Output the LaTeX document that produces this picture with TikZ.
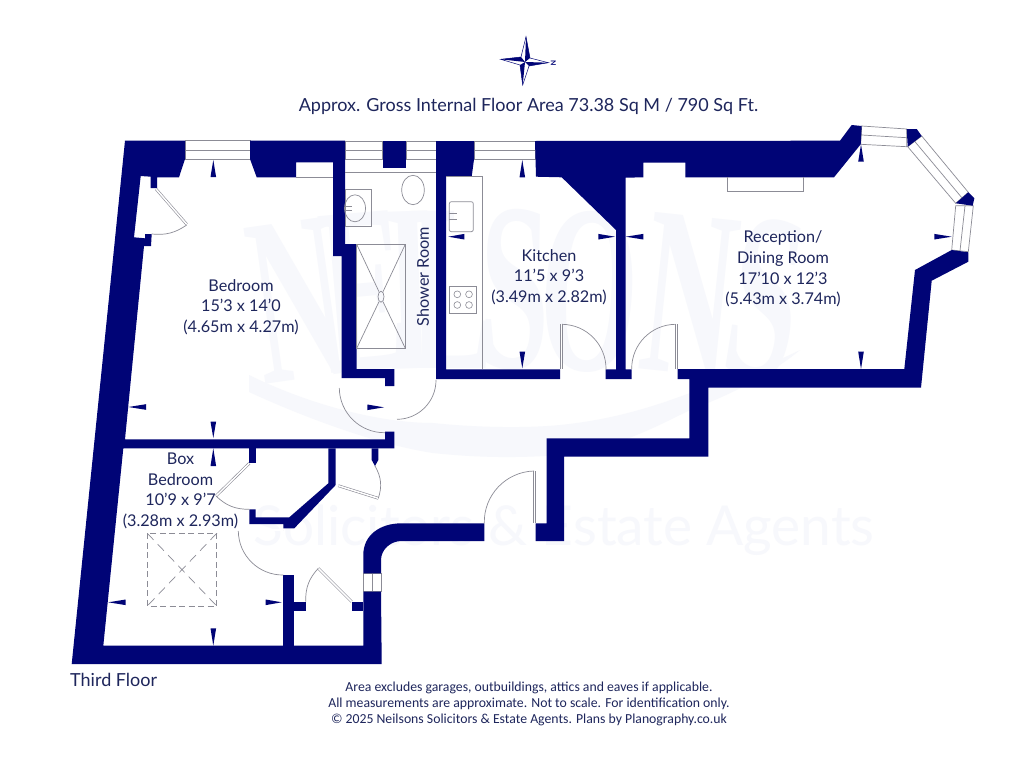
\documentclass[tikz,border=0pt]{standalone}
\usepackage{fontspec}
\setmainfont[Ligatures=Common]{Lato}
\newfontfamily\footfont[Ligatures=Common]{Carlito}
\newfontfamily\wmfont{Liberation Serif}
\usetikzlibrary{calc}
\definecolor{wallblue}{RGB}{0,4,118}
\definecolor{inkblue}{RGB}{30,38,92}
\definecolor{fixgray}{RGB}{140,140,150}
\definecolor{wmark}{RGB}{247,248,252}
\tikzset{
  wall/.style={fill=wallblue,draw=none},
  fix/.style={draw=fixgray,line width=0.7pt},
  swing/.style={draw=fixgray,line width=0.7pt},
  leaf/.style={draw=fixgray,line width=0.6pt,double=white,double distance=1.5pt},
  label/.style={text=inkblue,align=center,font=\fontsize{16.2}{20.6}\selectfont,inner sep=0pt},
  wmtext/.style={text=wmark,inner sep=0pt,font=\wmfont\bfseries\fontsize{120}{120}\selectfont},
  tick/.style={fill=wallblue,draw=none}
}
\newcommand{\vtick}[3]{\fill[tick] (#1,#2) -- (#1+2.8,#3) -- (#1-2.8,#3) -- cycle;}
\newcommand{\htick}[3]{\fill[tick] (#1,#3) -- (#2,#3-2.8) -- (#2,#3+2.8) -- cycle;}
\begin{document}
\begin{tikzpicture}[x=1pt,y=-1pt]
\useasboundingbox (0,0) rectangle (1024,768);
\fill[white] (0,0) rectangle (1024,768);
% watermark
\foreach \t/\x/\y/\r in {N/298/300/8,E/365/292/5,I/410/290/2,L/452/290/0,S/515/290/-1,O/590/292/-3,N/690/295/-6,S/765/300/-9}{
  \node[wmtext,rotate=\r] (wm\x) at (\x,\y) {\scalebox{1.05}[2]{\t}};
}
\fill[wmark] (249,375) .. controls (310,405) and (380,423) .. (433,423) .. controls (480,428) and (530,428) .. (560,425) .. controls (610,420) and (650,408) .. (690,393) .. controls (730,380) and (770,365) .. (800,350) .. controls (770,375) and (730,395) .. (690,410) .. controls (650,430) and (610,450) .. (560,455) .. controls (520,458) and (480,458) .. (433,453) .. controls (380,445) and (310,420) .. (249,392) -- cycle;
\node[text=wmark,inner sep=0pt,font=\fontsize{55}{55}\selectfont] (wmsub) at (564,530) {Solicitors \& Estate Agents};

% windows
\draw[fix] (185,140.7) rectangle (250,159) (185,150) -- (250,150);
\draw[fix] (345,141) rectangle (382.7,159.3) (345,150) -- (382.7,150);
\draw[fix] (406,141) rectangle (436,159.3) (406,150) -- (436,150);
\draw[fix] (474,141) rectangle (535,159.3) (474,150) -- (535,150);
\draw[fix] (861.7,126) -- (906.7,129) -- (906.7,146.7) -- (860.7,144.3) -- cycle (861.7,135) -- (906.7,137.7);
\draw[fix] (921.7,136) -- (968.3,192.3) -- (955.7,203.3) -- (907.7,146.7) -- cycle (915,141.7) -- (962.3,198.3);
\draw[fix] (955.7,205.7) -- (973.3,205.7) -- (968.3,251.7) -- (951.7,250) -- cycle (965,205.7) -- (960,250.7);
\draw[fix] (363.3,573.3) rectangle (381,591.7) (372,573.3) -- (372,591.7);

% walls
\fill[wall] (125,140.7) -- (185,140.7) -- (185,159) -- (179,177.3) -- (157,177.3) -- (157,188) -- (150.7,188) -- (150.7,176.7) -- (140.7,176) -- (134,237.3) -- (145,238.3) -- (145,234) -- (151.7,234) -- (151,246) -- (144,246) -- (125,439.3) -- (385,439.3) -- (385,431.7) -- (394.3,431.7) -- (394.3,448.3) -- (123.3,448.3) -- (103.3,645.7) -- (363.3,645.7) -- (363.3,591.7) -- (381,591.7) -- (381.7,664) -- (71.7,664) -- cycle;
\fill[wall] (363.3,573.3) -- (363.3,555) .. controls (363.3,535) and (380,523.3) .. (401.7,523.3) -- (484.3,523.3) -- (484.3,541) -- (401.7,541) .. controls (390,541) and (381,550) .. (381,560) -- (381,573.3) -- cycle;
\fill[wall] (250,140.7) -- (345,140.7) -- (345,244) -- (356.7,244) -- (356.7,369) -- (394.3,369) -- (394.3,386) -- (385,386) -- (385,378) -- (341.7,378) -- (341.7,256) -- (333,256) -- (333,162.3) -- (296,162.3) -- (296,177.3) -- (256.7,177.3) -- (250,159) -- cycle;
\fill[wall] (382.7,141) rectangle (406,168.3);
\fill[wall] (436,141) -- (474,141) -- (474,159.3) -- (471.7,176.7) -- (446,176.7) -- (446,369.3) -- (560,369.3) -- (560,379) -- (436,379) -- cycle;
\fill[wall] (535,141) -- (840,140.7) -- (851.7,125) -- (861.7,126) -- (860.7,144.3) -- (834,177.3) -- (685.3,177.3) -- (685.3,162.7) -- (643.3,162.7) -- (643.3,177.3) -- (625.7,177.7) -- (625.7,369.3) -- (631.7,369.3) -- (631.7,379) -- (605.7,379) -- (605.7,369.3) -- (616,369.3) -- (616,230) -- (561.7,177.3) -- (536,176.7) -- cycle;
\fill[wall] (951.7,250) -- (968.3,252.3) -- (968.3,261.7) -- (931.7,280.7) -- (921,387.7) -- (708.3,387.7) -- (708.3,456.7) -- (564,456.7) -- (564,541) -- (535.7,541) -- (535.7,523.3) -- (546.7,523.3) -- (546.7,438.3) -- (689.3,438.3) -- (689.3,379) -- (677.7,379) -- (677.7,369) -- (904.3,369) -- (915,270) -- cycle;
% bay piers
\fill[wall] (906.7,129) -- (916.7,129) -- (921.7,136) -- (907.7,146.7) -- cycle;
\fill[wall] (968.3,192.3) -- (974.3,198.3) -- (972.7,205.7) -- (955.7,203.3) -- cycle;
% lower partitions
\fill[wall] (283.3,575) rectangle (294.3,645.7);
\fill[wall] (294.3,601.7) rectangle (305.7,610.7);
\fill[wall] (351.7,601.7) rectangle (363.3,610.7);
\fill[wall] (249.3,448.3) rectangle (255.7,463.3);
\fill[wall] (328.3,448.3) -- (335.7,448.3) -- (335.7,485) -- (294.3,528.3) -- (283.3,528.3) -- (283.3,524) -- (249.3,524) -- (249.3,509.3) -- (255.7,509.3) -- (255.7,517.3) -- (289.3,517.3) -- (328.3,483.3) -- cycle;
\fill[wall] (371.7,448.3) -- (378.3,448.3) -- (378.3,460) -- (375,466) -- (371.7,460) -- cycle;

% doors
\draw[leaf] (339.3,387) -- (385,387);
\draw[swing] (339.3,388) to[bend right=45] (385,432.7);
\draw[leaf] (396,379) -- (396,419.3);
\draw[swing] (397,419.3) to[bend right=45] (436,380);
\draw[leaf] (561.3,324.3) -- (561.3,369.3);
\draw[swing] (562,324.3) to[bend left=45] (606,369.3);
\draw[leaf] (676.4,324.3) -- (676.4,369);
\draw[swing] (675.5,324.3) to[bend right=45] (631.7,369);
\draw[leaf] (534.7,471) -- (534.7,523.3);
\draw[swing] (534,471) to[bend right=45] (484.3,523.3);
\draw[leaf] (156,189) -- (186.7,224.3);
\draw[swing] (186.7,225) to[bend left=20] (151.7,234);
\draw[leaf] (249.3,463.3) -- (216,496);
\draw[swing] (216,496) to[bend right=22] (249.3,509.3);
\draw[leaf] (338.3,485.7) -- (378.3,498.3);
\draw[swing] (378.3,498.3) to[bend right=24] (375,466);
\draw[leaf] (283.3,530) -- (238.3,530);
\draw[swing] (238.3,531) to[bend right=45] (283.3,575);
\draw[leaf] (351.7,601.7) -- (318.3,568.3);
\draw[swing] (305.7,601.7) to[bend left=22] (318.3,568.3);

% fixtures
\draw[fix] (296,177.3) -- (333,177.3);
\draw[fix] (345,172.7) -- (436,172.7);
\draw[fix] (345,189) rectangle (371.7,226.7);
\draw[fix] (355,208.3) ellipse (10.5 and 13.5);
\draw[fix,line width=0.6pt] (346,206) -- (352,206) (346,210.5) -- (352,210.5);
\draw[fix,fill=white] (413,190) ellipse (11.3 and 14.7);
\draw[fix] (356.7,244.3) rectangle (405.3,348.3);
\draw[fix] (381,296.7) ellipse (3 and 5.5);
\draw[fix] (356.7,244.3) -- (379,291.7) (405.3,244.3) -- (383,291.7) (356.7,348.3) -- (379,301.7) (405.3,348.3) -- (383,301.7);
\draw[fix] (446,176.7) -- (482.3,176.7) -- (482.3,369.3);
\draw[fix,rounded corners=2pt] (449.3,201.7) rectangle (473.3,231.7);
\draw[fix,line width=0.6pt] (449.3,213.5) -- (456.5,213.5) (449.3,219) -- (456.5,219);
\draw[fix] (449.3,286) rectangle (476.7,313.3);
\foreach \cx in {457.3,469}{\foreach \cy in {294.3,305}{\draw[fix,line width=0.6pt] (\cx,\cy) circle (3.4);}}
\draw[fix] (727.3,177.3) -- (727.3,191) -- (803.3,191) -- (803.3,177.3);
% skylight
\draw[fix,dash pattern=on 6pt off 3.5pt] (147.3,533.3) rectangle (216.7,606);
\draw[fix,dash pattern=on 9pt off 6pt] (147.3,533.3) -- (216.7,606) (216.7,533.3) -- (147.3,606);

% dimension ticks
\vtick{213.3}{160}{177} \htick{128.3}{146}{407} \vtick{213.3}{438}{421.7} \htick{384}{367.3}{407.3}
\vtick{213.3}{448.3}{466} \htick{108.3}{125.7}{602.3} \htick{281.7}{265.7}{602.3} \vtick{213.3}{645.7}{628.3}
\vtick{522.3}{160}{177.3} \htick{448.3}{464.3}{236.7} \htick{615}{598.3}{236.7} \vtick{522.3}{368.3}{351.7}
\htick{625.7}{643.3}{236.7} \vtick{861}{144.3}{161.7} \htick{951.7}{934.3}{236.7} \vtick{861}{369}{351.7}

% compass
\draw[wallblue,line width=0.5pt,fill=white] (526,36.7) -- (530,58) -- (548.3,62.7) -- (529,66) -- (522.7,85) -- (520,65) -- (500.7,59.3) -- (521,57) -- cycle;
\fill[wallblue] (526,36.7) -- (530,58) -- (525,62) -- cycle;
\fill[wallblue] (548.3,62.7) -- (529,66) -- (525,62) -- cycle;
\fill[wallblue] (522.7,85) -- (520,65) -- (525,62) -- cycle;
\fill[wallblue] (500.7,59.3) -- (521,57) -- (525,62) -- cycle;
\node[text=wallblue,rotate=-90,inner sep=0pt,font=\bfseries\fontsize{7}{7}\selectfont] (north) at (553.5,62.7) {N};

% texts
\node[text=inkblue,inner sep=0pt,font=\fontsize{18}{20}\selectfont] (title) at (528.5,106) {Approx. Gross Internal Floor Area 73.38 Sq M / 790 Sq Ft.};
\node[label] (bedroom) at (241,307) {Bedroom\\15'3 x 14'0\\(4.65m x 4.27m)};
\node[label] (boxbed) at (180.5,491) {Box\\Bedroom\\10'9 x 9'7\\(3.28m x 2.93m)};
\node[label] (kitchen) at (549,277) {Kitchen\\11'5 x 9'3\\(3.49m x 2.82m)};
\node[label,rotate=90] (shower) at (423,276.7) {Shower Room};
\node[label] (reception) at (783,269) {Reception/\\Dining Room\\17'10 x 12'3\\(5.43m x 3.74m)};
\node[text=inkblue,anchor=west,inner sep=0pt,font=\fontsize{18}{20}\selectfont] (floor) at (70,680) {Third Floor};
\node[text=inkblue,align=center,inner sep=0pt,font=\footfont\fontsize{13.75}{16}\selectfont] (foot) at (529,704) {Area excludes garages, outbuildings, attics and eaves if applicable.\\All measurements are approximate. Not to scale. For identification only.\\© 2025 Neilsons Solicitors \& Estate Agents. Plans by Planography.co.uk};
\end{tikzpicture}
\end{document}
